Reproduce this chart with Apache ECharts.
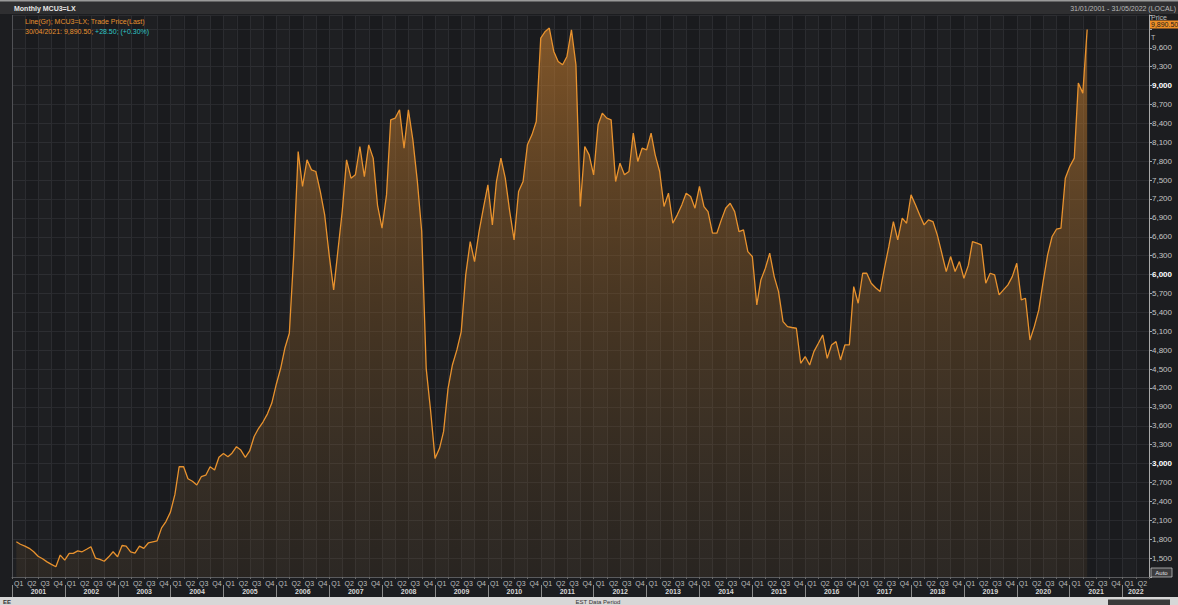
<!DOCTYPE html>
<html>
<head>
<meta charset="utf-8">
<script src="https://cdn.jsdelivr.net/npm/echarts/dist/echarts.min.js"></script>
<style>
html,body{margin:0;padding:0;background:#1c1d20;}
#c{width:1178px;height:605px;}
</style>
</head>
<body>
<div id="c"></div>
<script>
// Monthly MCU3=LX trade price (last), month-end values, USD
const v2001 = [1760, 1720, 1690, 1655, 1600, 1530, 1490, 1440, 1400, 1362, 1548, 1468];
const v2002 = [1574, 1574, 1615, 1600, 1640, 1680, 1500, 1480, 1450, 1520, 1600, 1521];
const v2003 = [1700, 1690, 1600, 1580, 1690, 1654, 1740, 1759, 1775, 1980, 2080, 2230];
const v2004 = [2510, 2950, 2950, 2760, 2720, 2660, 2792, 2816, 2950, 2898, 3100, 3160];
const v2005 = [3110, 3165, 3268, 3215, 3100, 3200, 3430, 3560, 3660, 3790, 3960, 4260];
const v2006 = [4520, 4830, 5068, 6300, 7953, 7398, 7821, 7662, 7636, 7318, 6948, 6312];
const v2007 = [5757, 6350, 7000, 7821, 7530, 7583, 8033, 7556, 8059, 7848, 7100, 6736];
const v2008 = [7265, 8456, 8483, 8615, 8006, 8615, 8139, 7480, 6683, 4512, 3850, 3083];
const v2009 = [3242, 3507, 4195, 4565, 4804, 5095, 5995, 6524, 6206, 6683, 7053, 7424];
const v2010 = [6789, 7477, 7848, 7530, 7000, 6551, 7318, 7477, 8059, 8218, 8430, 9753];
const v2011 = [9859, 9912, 9542, 9383, 9330, 9462, 9886, 9330, 7080, 8033, 7900, 7583];
const v2012 = [8377, 8562, 8483, 8456, 7477, 7768, 7583, 7636, 8245, 7795, 8006, 7980];
const v2013 = [8245, 7900, 7636, 7080, 7292, 6815, 6948, 7106, 7292, 7240, 7053, 7398];
const v2014 = [7080, 7000, 6657, 6657, 6868, 7053, 7133, 7000, 6683, 6710, 6365, 6286];
const v2015 = [5518, 5915, 6101, 6339, 5968, 5730, 5254, 5174, 5160, 5148, 4592, 4698];
const v2016 = [4565, 4777, 4910, 5042, 4671, 4883, 4936, 4645, 4883, 4883, 5810, 5545];
const v2017 = [6021, 6021, 5862, 5790, 5730, 6100, 6450, 6840, 6551, 6895, 6815, 7265];
const v2018 = [7106, 6948, 6789, 6868, 6842, 6630, 6339, 6048, 6286, 6048, 6206, 5942];
const v2019 = [6150, 6524, 6498, 6471, 5862, 6021, 5995, 5677, 5757, 5836, 5968, 6180];
const v2020 = [5598, 5624, 4962, 5174, 5439, 5889, 6312, 6604, 6720, 6736, 7530, 7715];
const v2021 = [7848, 9039, 8880, 9890.5];

const yearSeries = [
  [2001, v2001], [2002, v2002], [2003, v2003], [2004, v2004], [2005, v2005],
  [2006, v2006], [2007, v2007], [2008, v2008], [2009, v2009], [2010, v2010],
  [2011, v2011], [2012, v2012], [2013, v2013], [2014, v2014], [2015, v2015],
  [2016, v2016], [2017, v2017], [2018, v2018], [2019, v2019], [2020, v2020],
  [2021, v2021]
];

const quarterNames = ['Q1', 'Q2', 'Q3', 'Q4'];
const axisYears = ['2001','2002','2003','2004','2005','2006','2007','2008','2009','2010','2011',
  '2012','2013','2014','2015','2016','2017','2018','2019','2020','2021','2022'];
const axisStart = '2001-01-01';
const axisEnd = '2022-07-01';
const priceMin = 1200, priceMax = 10120, priceStep = 300;
const headerTitle = 'Monthly MCU3=LX';
const dateRange = '31/01/2001 - 31/05/2022 (LOCAL)';
const legend1 = 'Line(Gr); MCU3=LX; Trade Price(Last)';
const legend2a = '30/04/2021: 9,890.50; ';
const legend2b = '+28.50; (+0.30%)';
const lastPriceTag = '9,890.50';

// build data
const lineData = [];
yearSeries.forEach(([y, vals]) => {
  vals.forEach((v, i) => {
    const dd = new Date(y, i + 1, 0).getDate();
    const mm = String(i + 1).padStart(2, '0');
    lineData.push([`${y}-${mm}-${dd}`, v]);
  });
});

// quarter categories (Q1 2001 .. Q2 2022)
const qCats = [];
axisYears.forEach((y) => {
  quarterNames.forEach((q) => {
    if (qCats.length < 86) qCats.push(y + q);
  });
});
// quarter boundaries (87 points) for year labels
const bCats = [];
for (let i = 0; i <= 86; i++) bCats.push('b' + i);

function fmtNum(v) {
  return v.toLocaleString('en-US');
}

const FONT = 'Liberation Sans';
const chart = echarts.init(document.getElementById('c'), null, {renderer: 'svg', width: 1178, height: 605});

chart.setOption({
  backgroundColor: '#1c1d20',
  animation: false,
  grid: {left: 12, right: 29, top: 15, bottom: 28, show: false},
  xAxis: [
    {
      type: 'time', min: axisStart, max: axisEnd,
      axisLine: {show: true, lineStyle: {color: '#5a5b5e', width: 1}},
      axisTick: {show: false}, axisLabel: {show: false}, splitLine: {show: false}
    },
    {
      type: 'category', data: qCats, boundaryGap: true, position: 'bottom',
      axisLine: {show: false},
      axisTick: {show: true, length: 2, lineStyle: {color: '#6a6a6a'}},
      axisLabel: {
        show: true, interval: 0, margin: 3, color: '#bdbdbd', fontSize: 7, fontFamily: FONT,
        formatter: (v) => v.slice(4)
      },
      splitLine: {show: true, lineStyle: {color: '#2b2c30', width: 1}},
      splitArea: {show: true, areaStyle: {color: ['rgba(255,255,255,0.012)', 'rgba(0,0,0,0.06)']}}
    },
    {
      type: 'category', data: bCats, boundaryGap: false, position: 'bottom', offset: 8,
      axisLine: {show: false},
      axisTick: {show: true, interval: (idx) => idx % 4 === 0, length: 12, lineStyle: {color: '#8a8a8a'}},
      axisLabel: {
        show: true, margin: 3, color: '#d6d6d6', fontSize: 7, fontWeight: 'bold', fontFamily: FONT,
        interval: (idx) => (idx % 4 === 2 && idx < 84) || idx === 85,
        formatter: (v, idx) => idx === 85 ? axisYears[21] : axisYears[Math.floor(idx / 4)]
      },
      splitLine: {show: false}
    }
  ],
  yAxis: {
    type: 'value', position: 'right', min: priceMin, max: priceMax, interval: priceStep,
    axisLine: {show: true, lineStyle: {color: '#a8a8a8', width: 1}},
    axisTick: {show: true, length: 3, lineStyle: {color: '#a8a8a8'}},
    axisLabel: {
      margin: 3, color: '#c4c4c4', fontSize: 8, fontFamily: FONT,
      formatter: (v) => {
        if (v < 1500 || v > 9600) return '';
        return v % 3000 === 0 ? '{b|' + fmtNum(v) + '}' : fmtNum(v);
      },
      rich: {b: {color: '#ffffff', fontWeight: 'bold', fontSize: 8, fontFamily: FONT}}
    },
    splitLine: {show: true, lineStyle: {color: '#2b2c30', width: 1}}
  },
  series: [{
    type: 'line', xAxisIndex: 0, yAxisIndex: 0, data: lineData,
    showSymbol: false, symbol: 'none',
    lineStyle: {color: '#e8922e', width: 1.3},
    areaStyle: {
      color: new echarts.graphic.LinearGradient(0, 0, 0, 1, [
        {offset: 0, color: 'rgba(205,128,46,0.8)'},
        {offset: 0.5, color: 'rgba(165,108,42,0.47)'},
        {offset: 1, color: 'rgba(130,95,50,0.2)'}
      ])
    }
  }],
  graphic: [
    {type: 'rect', shape: {x: 0, y: 0, width: 1178, height: 14}, style: {fill: '#2f2f31'}, z: 10},
    {type: 'rect', shape: {x: 0, y: 0, width: 1178, height: 1.5}, style: {fill: '#9a9a9a'}, z: 11},
    {type: 'line', shape: {x1: 12.5, y1: 15, x2: 12.5, y2: 577}, style: {stroke: '#505155', lineWidth: 1}, z: 11},
    {type: 'text', x: 14, y: 8, style: {text: headerTitle, fill: '#e6e6e6', font: 'bold 7px ' + FONT, verticalAlign: 'middle'}, z: 12},
    {type: 'text', x: 1176, y: 8, style: {text: dateRange, fill: '#b8b8b8', font: '7px ' + FONT, align: 'right', verticalAlign: 'middle'}, z: 12},
    {type: 'text', x: 25, y: 21, style: {text: legend1, fill: '#e8922e', font: '7px ' + FONT, verticalAlign: 'middle'}, z: 12},
    {type: 'text', x: 25, y: 31, style: {
      text: '{o|' + legend2a + '}{t|' + legend2b + '}', verticalAlign: 'middle',
      rich: {o: {fill: '#e8922e', font: '7px ' + FONT}, t: {fill: '#2fc6c6', font: '7px ' + FONT}}
    }, z: 12},
    {type: 'text', x: 1151, y: 17, style: {text: 'Price', fill: '#bdbdbd', font: '7px ' + FONT, verticalAlign: 'middle'}, z: 12},
    {type: 'rect', shape: {x: 1150, y: 20.5, width: 28, height: 8}, style: {fill: '#ee8f26'}, z: 12},
    {type: 'text', x: 1151, y: 24.5, style: {text: lastPriceTag, fill: '#1c1c1c', font: '7px ' + FONT, verticalAlign: 'middle'}, z: 13},
    {type: 'text', x: 1151, y: 37, style: {text: 'T', fill: '#bdbdbd', font: '7px ' + FONT, verticalAlign: 'middle'}, z: 12},
    {type: 'rect', shape: {x: 1151, y: 568, width: 21, height: 9}, style: {fill: '#3c3c3e', stroke: '#bdbdbd', lineWidth: 0.8}, z: 12},
    {type: 'text', x: 1161.5, y: 572.5, style: {text: 'Auto', fill: '#e0e0e0', font: '6px ' + FONT, align: 'center', verticalAlign: 'middle'}, z: 13},
    {type: 'rect', shape: {x: 0, y: 597, width: 1178, height: 8}, style: {fill: '#d7d7d7'}, z: 10},
    {type: 'text', x: 3, y: 601.5, style: {text: 'EE', fill: '#333', font: 'bold 6px ' + FONT, verticalAlign: 'middle'}, z: 12},
    {type: 'text', x: 598, y: 601.5, style: {text: 'EST Data Period', fill: '#333', font: '6px ' + FONT, align: 'center', verticalAlign: 'middle'}, z: 12},
    {type: 'rect', shape: {x: 1108, y: 599.5, width: 62, height: 5.5}, style: {fill: '#3a3a3a'}, z: 12}
  ]
});
</script>
</body>
</html>
